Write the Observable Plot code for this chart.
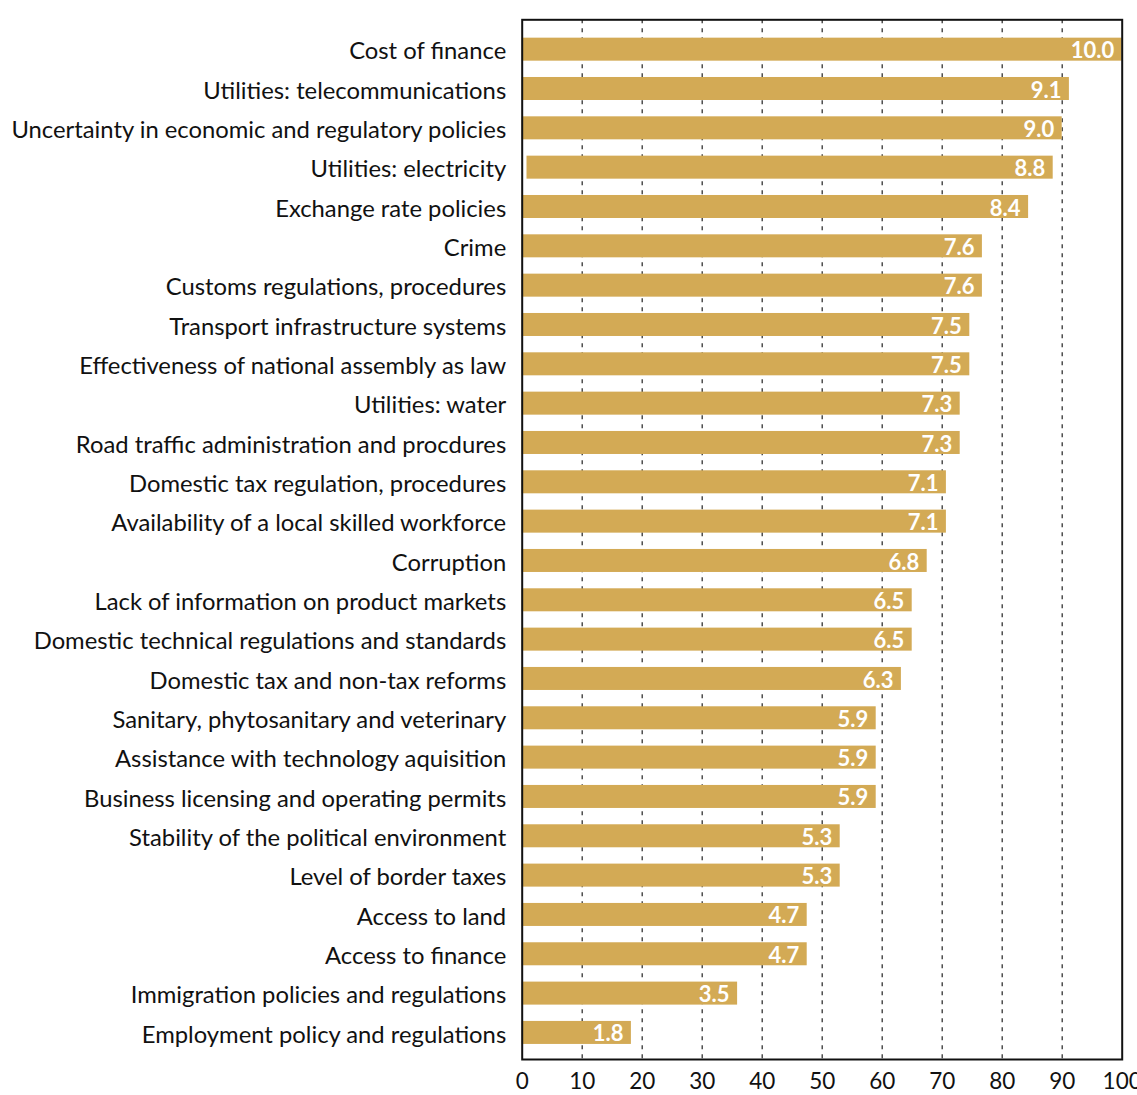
<!DOCTYPE html>
<html>
<head>
<meta charset="utf-8">
<script src="https://cdn.jsdelivr.net/npm/d3@7"></script>
<script src="https://cdn.jsdelivr.net/npm/@observablehq/plot@0.6"></script>
<style>
  html, body { margin: 0; padding: 0; background: #fff; }
  #chart { width: 1137px; height: 1095px; overflow: hidden; }
</style>
</head>
<body>
<div id="chart"></div>
<script>
const categories = [
  "Cost of finance",
  "Utilities: telecommunications",
  "Uncertainty in economic and regulatory policies",
  "Utilities: electricity",
  "Exchange rate policies",
  "Crime",
  "Customs regulations, procedures",
  "Transport infrastructure systems",
  "Effectiveness of national assembly as law",
  "Utilities: water",
  "Road traffic administration and procdures",
  "Domestic tax regulation, procedures",
  "Availability of a local skilled workforce",
  "Corruption",
  "Lack of information on product markets",
  "Domestic technical regulations and standards",
  "Domestic tax and non-tax reforms",
  "Sanitary, phytosanitary and veterinary",
  "Assistance with technology aquisition",
  "Business licensing and operating permits",
  "Stability of the political environment",
  "Level of border taxes",
  "Access to land",
  "Access to finance",
  "Immigration policies and regulations",
  "Employment policy and regulations"
];
// bar lengths
const values = [100, 91.2, 90, 88.5, 84.4, 76.7, 76.7, 74.6, 74.6, 73, 73, 70.7, 70.7, 67.5, 65, 65, 63.2, 59, 59, 59, 53, 53, 47.5, 47.5, 35.9, 18.2];
// bar starting values (the electricity bar starts slightly right of zero)
const starts = [0, 0, 0, 0.8, 0, 0, 0, 0, 0, 0, 0, 0, 0, 0, 0, 0, 0, 0, 0, 0, 0, 0, 0, 0, 0, 0];
// value labels printed on the bars
const labels = ["10.0", "9.1", "9.0", "8.8", "8.4", "7.6", "7.6", "7.5", "7.5", "7.3", "7.3", "7.1", "7.1", "6.8", "6.5", "6.5", "6.3", "5.9", "5.9", "5.9", "5.3", "5.3", "4.7", "4.7", "3.5", "1.8"];
const xTicks = [0, 10, 20, 30, 40, 50, 60, 70, 80, 90, 100];
const gridTicks = [10, 20, 30, 40, 50, 60, 70, 80, 90];

const data = categories.map((c, i) => ({category: c, value: values[i], start: starts[i], label: labels[i]}));

const font = "Lato, 'Noto Sans', sans-serif";

const chart = Plot.plot({
  width: 1137,
  height: 1095,
  marginLeft: 521.7,
  marginRight: 15.3,
  marginTop: 19.3,
  marginBottom: 36,
  style: {fontFamily: font, color: "#111", background: "#fff"},
  x: {domain: [0, 100], ticks: xTicks},
  y: {domain: categories, range: [29.5, 1052.1], paddingInner: 0.415, paddingOuter: 0.2075, round: false},
  marks: [
    Plot.gridX(gridTicks, {stroke: "#333", strokeOpacity: 1, strokeWidth: 1.3, strokeDasharray: "4,5"}),
    Plot.barX(data, {x1: "start", x2: "value", y: "category", fill: "#D3AA55"}),
    Plot.text(data, {x: "value", y: "category", text: "label", textAnchor: "end", dx: -8, dy: 1.5, fill: "#fff", fontSize: 22, fontWeight: 700, fontFamily: font}),
    Plot.axisX(xTicks, {tickSize: 0, tickPadding: 14, fontSize: 22.5, label: null, tickFormat: d => String(d)}),
    Plot.axisY({tickSize: 0, tickPadding: 16, fontSize: 23.8, dy: 2, label: null}),
    Plot.frame({stroke: "#111", strokeWidth: 2})
  ]
});
document.getElementById("chart").appendChild(chart);
</script>
</body>
</html>
